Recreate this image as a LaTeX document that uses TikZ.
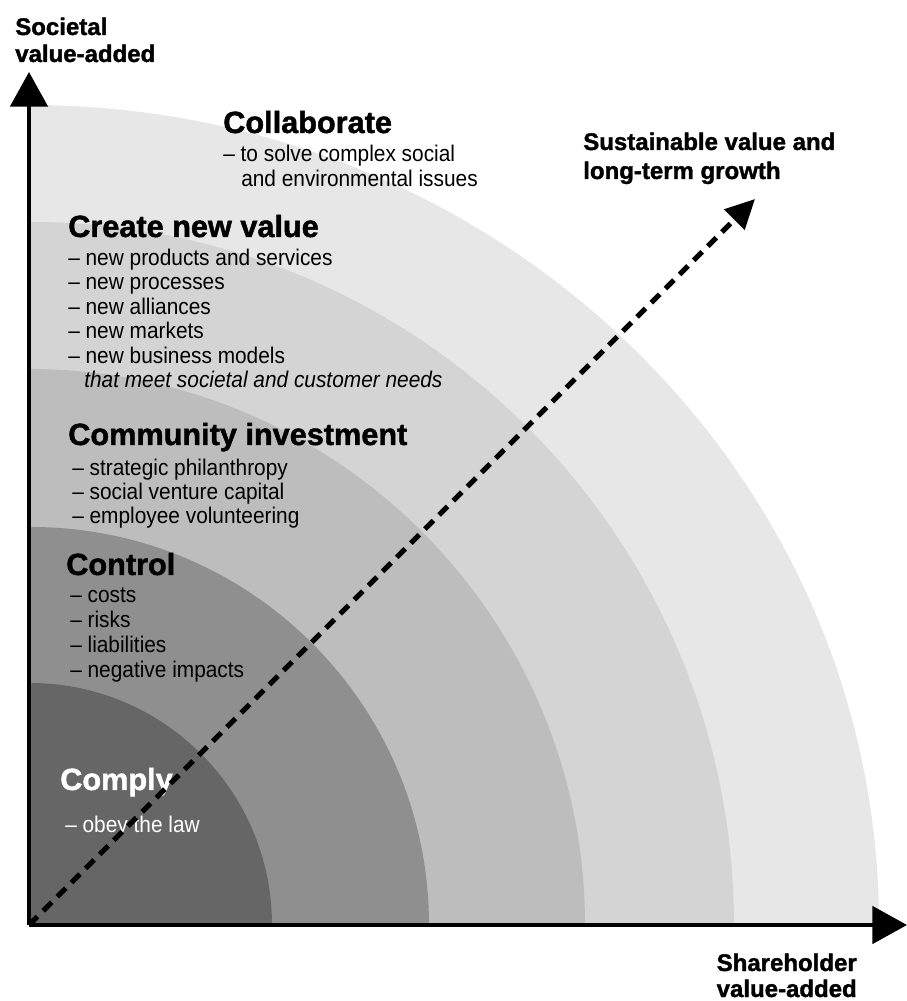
\documentclass[tikz,border=0pt]{standalone}
\usepackage{fontspec}
\setmainfont{Liberation Sans}[BoldFeatures={FakeBold=1.5}]
\newfontfamily\itemfont{Liberation Sans}[Ligatures=TeX, FakeStretch=0.92]
\usetikzlibrary{arrows.meta}
\definecolor{complygray}{gray}{0.40}
\definecolor{controlgray}{gray}{0.56}
\definecolor{communitygray}{gray}{0.74}
\definecolor{creategray}{gray}{0.83}
\definecolor{collabgray}{gray}{0.905}

\begin{document}
\begin{tikzpicture}[x=0.75pt,y=0.75pt,
    head/.style={anchor=base west, inner sep=0pt, font=\fontsize{23}{25}\selectfont\bfseries},
    item/.style={anchor=base west, inner sep=0pt, font=\fontsize{17}{20}\selectfont\itemfont},
    axislabel/.style={inner sep=0pt, font=\fontsize{18}{20}\selectfont\bfseries},
    axis/.style={line width=3pt, -{Triangle[length=26pt,width=28pt]}},
    growth/.style={line width=3.75pt, dash pattern=on 9pt off 6pt, -{Triangle[length=22pt,width=21pt]}}]
    \useasboundingbox (-29,-76) rectangle (878,925);

    \coordinate (O) at (0,0);
    \coordinate (ytip) at (0,853);
    \coordinate (xtip) at (878,0);
    \coordinate (goal) at (726,726);

    \fill[collabgray] (O) -- (850,0) arc[start angle=0, end angle=90, x radius=850, y radius=820] -- cycle;
    \fill[creategray] (O) -- (705,0) arc[start angle=0, end angle=90, radius=703] -- cycle;
    \fill[communitygray] (O) -- (556,0) arc[start angle=0, end angle=90, radius=556] -- cycle;
    \fill[controlgray] (O) -- (400,0) arc[start angle=0, end angle=90, radius=398] -- cycle;
    \fill[complygray] (O) -- (243,0) arc[start angle=0, end angle=90, radius=242] -- cycle;

    \node[axislabel, anchor=base west] (soc1) at (-14,890) {Societal};
    \node[axislabel, anchor=base west] (soc2) at (-14,863) {value-added};
    \node[axislabel, anchor=base east] (sha1) at (828,-46) {Shareholder};
    \node[axislabel, anchor=base east] (sha2) at (828,-72) {value-added};
    \node[axislabel, anchor=base west] (sus1) at (554,775) {Sustainable value and};
    \node[axislabel, anchor=base west] (sus2) at (554,746) {long-term growth};

    \node[head] (collab) at (194,792) {Collaborate};
    \node[item] (collab1) at (194,763) {-- to solve complex social};
    \node[item] (collab2) at (212,738) {and environmental issues};

    \node[head] (create) at (39,688) {Create new value};
    \foreach \txt [count=\i] in {new products and services, new processes, new alliances, new markets, new business models}
      \node[item] (create\i) at (39,684-24.5*\i) {-- \txt};
    \node[item, font=\fontsize{17}{20}\selectfont\itemfont\itshape] (create6) at (55,537) {that meet societal and customer needs};

    \node[head] (community) at (39,480) {Community investment};
    \foreach \txt [count=\i] in {strategic philanthropy, social venture capital, employee volunteering}
      \node[item] (community\i) at (43,473-24*\i) {-- \txt};

    \node[head] (control) at (37,350) {Control};
    \foreach \txt [count=\i] in {costs, risks, liabilities, negative impacts}
      \node[item] (control\i) at (41,347-25*\i) {-- \txt};

    \node[head, text=white] (comply) at (31,135) {Comply};
    \node[item, text=white] (comply1) at (36,93) {-- obey the law};

    \draw[axis] (O) -- (ytip);
    \draw[axis] (O) -- (xtip);
    \draw[growth] (O) -- (goal);
\end{tikzpicture}
\end{document}
